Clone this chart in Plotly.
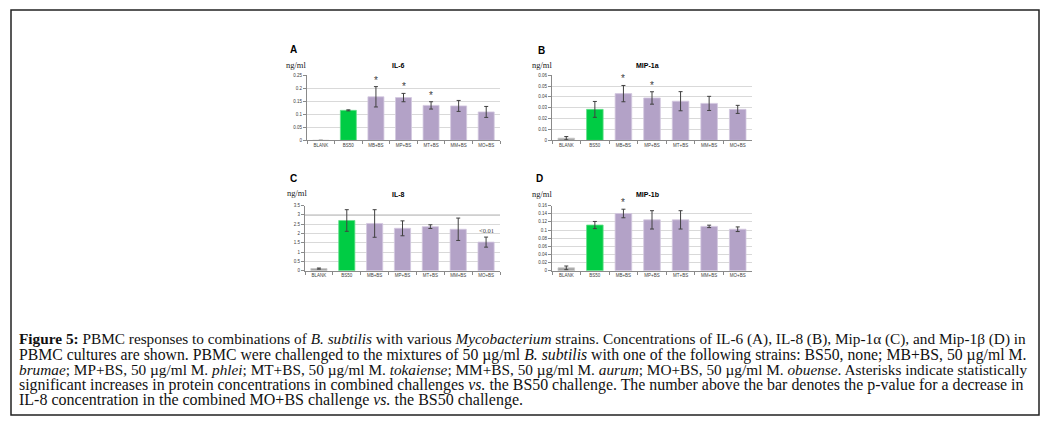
import plotly.graph_objects as go

W, H = 1048, 427

categories = ["BLANK", "BS50", "MB+BS", "MP+BS", "MT+BS", "MM+BS", "MO+BS"]

il6_vals = [0, 0.115, 0.167, 0.164, 0.134, 0.132, 0.109]
il6_err = [None, 0.002, 0.039, 0.016, 0.014, 0.021, 0.021]
il6_ticks = [0, 0.05, 0.1, 0.15, 0.2, 0.25]
il6_ticktext = ["0", "0.05", "0.1", "0.15", "0.2", "0.25"]
il6_star = [False, False, True, True, True, False, False]

mip1a_vals = [0.002, 0.0285, 0.043, 0.039, 0.036, 0.034, 0.0285]
mip1a_err = [0.0015, 0.0073, 0.0075, 0.0057, 0.0088, 0.0065, 0.0037]
mip1a_ticks = [0, 0.01, 0.02, 0.03, 0.04, 0.05, 0.06]
mip1a_ticktext = ["0", "0.01", "0.02", "0.03", "0.04", "0.05", "0.06"]
mip1a_star = [False, False, True, True, False, False, False]

il8_vals = [0.12, 2.70, 2.54, 2.28, 2.37, 2.23, 1.54]
il8_err = [0.03, 0.58, 0.74, 0.40, 0.10, 0.60, 0.27]
il8_ticks = [0, 0.5, 1, 1.5, 2, 2.5, 3, 3.5]
il8_ticktext = ["0", "0.5", "1", "1.5", "2", "2.5", "3", "3.5"]
il8_dark_gridline = 3
il8_pvalue_label = "<0.01"
il8_pvalue_cat = "MO+BS"

mip1b_vals = [0.0073, 0.1123, 0.1406, 0.125, 0.125, 0.109, 0.102]
mip1b_err = [0.0045, 0.0088, 0.0105, 0.0225, 0.0225, 0.003, 0.0057]
mip1b_ticks = [0, 0.02, 0.04, 0.06, 0.08, 0.1, 0.12, 0.14, 0.16]
mip1b_ticktext = ["0", "0.02", "0.04", "0.06", "0.08", "0.1", "0.12", "0.14", "0.16"]
mip1b_star = [False, False, True, False, False, False, False]

panel_letters = ["A", "B", "C", "D"]
panel_titles = ["IL-6", "MIP-1a", "IL-8", "MIP-1b"]
unit_label = "ng/ml"

caption_lines = [
    "<b>Figure 5:</b> PBMC responses to combinations of <i>B. subtilis</i> with various <i>Mycobacterium</i> strains. Concentrations of IL-6 (A), IL-8 (B), Mip-1α (C), and Mip-1β (D) in",
    "PBMC cultures are shown. PBMC were challenged to the mixtures of 50 µg/ml <i>B. subtilis</i> with one of the following strains: BS50, none; MB+BS, 50 µg/ml M.",
    "<i>brumae</i>; MP+BS, 50 µg/ml M. <i>phlei</i>; MT+BS, 50 µg/ml M. <i>tokaiense</i>; MM+BS, 50 µg/ml M. <i>aurum</i>; MO+BS, 50 µg/ml M. <i>obuense</i>. Asterisks indicate statistically",
    "significant increases in protein concentrations in combined challenges <i>vs.</i> the BS50 challenge. The number above the bar denotes the p-value for a decrease in",
    "IL-8 concentration in the combined MO+BS challenge <i>vs.</i> the BS50 challenge.",
]
caption_sizes = [15.3, 15.75, 15.3, 15.9, 16.0]

GRAY = "#a5a5a5"
GREEN = "#00cc44"
PURPLE = "#b3a2c7"
bar_colors = [GRAY, GREEN] + [PURPLE] * 5
edge_colors = ["#c8c8c8", "#66e08a"] + ["#d3c8e0"] * 5


def px_x(p):
    return p / W


def px_y(p):
    return 1 - p / H


# panel layout in pixels: (x0, x1, ytop, ybottom)
panels = [
    (307, 500, 74, 140),
    (552, 752, 74, 140),
    (305, 500, 206, 272),
    (552, 752, 206, 272),
]
datasets = [
    (il6_vals, il6_err, il6_ticks, il6_ticktext, il6_star),
    (mip1a_vals, mip1a_err, mip1a_ticks, mip1a_ticktext, mip1a_star),
    (il8_vals, il8_err, il8_ticks, il8_ticktext, None),
    (mip1b_vals, mip1b_err, mip1b_ticks, mip1b_ticktext, mip1b_star),
]

fig = go.Figure()
annotations = []
layout_axes = {}
tick_font = dict(family="Liberation Sans, Arial, sans-serif", size=4.5, color="#404040")

for i, ((x0, x1, yt, yb), (vals, errs, tv, tt, stars)) in enumerate(zip(panels, datasets)):
    n = "" if i == 0 else str(i + 1)
    fig.add_trace(go.Bar(
        x=categories, y=vals, width=0.58,
        marker=dict(color=bar_colors, line=dict(color=edge_colors, width=0.8)),
        error_y=dict(type="data", array=errs, visible=True, color="#404040",
                     thickness=1, width=2),
        xaxis="x" + n, yaxis="y" + n, showlegend=False, hoverinfo="x+y",
    ))
    layout_axes["xaxis" + n] = dict(
        domain=[px_x(x0), px_x(x1)], anchor="y" + n,
        type="category", categoryorder="array", categoryarray=categories,
        showline=True, linecolor="#8a8a8a", linewidth=1,
        ticks="outside", tickson="boundaries", ticklen=3, tickcolor="#8a8a8a",
        tickfont=tick_font, showgrid=False, fixedrange=True,
    )
    layout_axes["yaxis" + n] = dict(
        domain=[px_y(yb), px_y(yt)], anchor="x" + n,
        range=[tv[0], tv[-1]], tickvals=tv, ticktext=tt,
        showline=True, linecolor="#8a8a8a", linewidth=1,
        ticks="outside", ticklen=3, tickcolor="#8a8a8a",
        gridcolor="#d9d9d9", gridwidth=1, zeroline=False,
        tickfont=tick_font, fixedrange=True,
    )
    if stars:
        for c, v, e, s in zip(categories, vals, errs, stars):
            if s:
                annotations.append(dict(
                    x=c, y=v + (e or 0), xref="x" + n, yref="y" + n,
                    text="*", showarrow=False, xanchor="center", yanchor="bottom", yshift=-1,
                    font=dict(family="Liberation Sans, Arial", size=10, color="#404040"),
                ))

# p-value label over IL-8 MO+BS
idx = categories.index(il8_pvalue_cat)
annotations.append(dict(
    x=il8_pvalue_cat, y=il8_vals[idx] + il8_err[idx], xref="x3", yref="y3",
    text=il8_pvalue_label, showarrow=False, xanchor="center", yanchor="bottom", yshift=1,
    font=dict(family="Liberation Serif, serif", size=6.5, color="#404040"),
))

# letters, units and titles
letter_pos = [(293, 48), (541, 49), (293, 179), (539, 179)]
unit_pos = [(296, 64), (542, 64), (297, 193), (542, 194)]
title_pos = [(398, 64), (647, 64), (398, 195), (647, 195)]
for L, T, lp, up, tp in zip(panel_letters, panel_titles, letter_pos, unit_pos, title_pos):
    annotations.append(dict(x=px_x(lp[0]), y=px_y(lp[1]), xref="paper", yref="paper",
                            text="<b>" + L + "</b>", showarrow=False,
                            xanchor="center", yanchor="middle",
                            font=dict(family="Liberation Sans, Arial", size=10, color="#000")))
    annotations.append(dict(x=px_x(up[0]), y=px_y(up[1]), xref="paper", yref="paper",
                            text=unit_label, showarrow=False, borderpad=0,
                            xanchor="center", yanchor="middle",
                            font=dict(family="Liberation Serif, serif", size=8.5, color="#222")))
    annotations.append(dict(x=px_x(tp[0]), y=px_y(tp[1]), xref="paper", yref="paper",
                            text="<b>" + T + "</b>", showarrow=False,
                            xanchor="center", yanchor="middle",
                            font=dict(family="Liberation Sans, Arial", size=7, color="#000")))

# caption
cap_y = [341, 357, 372, 388, 403]
for line, yy, sz in zip(caption_lines, cap_y, caption_sizes):
    annotations.append(dict(x=px_x(18), y=px_y(yy), xref="paper", yref="paper",
                            text=line, showarrow=False, xanchor="left", yanchor="middle",
                            borderpad=0,
                            font=dict(family="Liberation Serif, serif", size=sz, color="#111")))

shapes = [
    dict(type="rect", xref="paper", yref="paper",
         x0=px_x(11), x1=px_x(1039), y0=px_y(418), y1=px_y(8),
         line=dict(color="#222", width=1.5)),
    dict(type="line", xref="x3 domain", yref="y3", x0=0, x1=1,
         y0=il8_dark_gridline, y1=il8_dark_gridline,
         line=dict(color="#8a8a8a", width=1), layer="below"),
]

fig.update_layout(
    width=W, height=H, margin=dict(l=0, r=0, t=0, b=0),
    paper_bgcolor="white", plot_bgcolor="white",
    annotations=annotations, shapes=shapes,
    **layout_axes,
)

fig.write_html("out.html", config={"displayModeBar": False},
               post_script="document.body.style.margin='0px';document.body.style.overflow='hidden';")
